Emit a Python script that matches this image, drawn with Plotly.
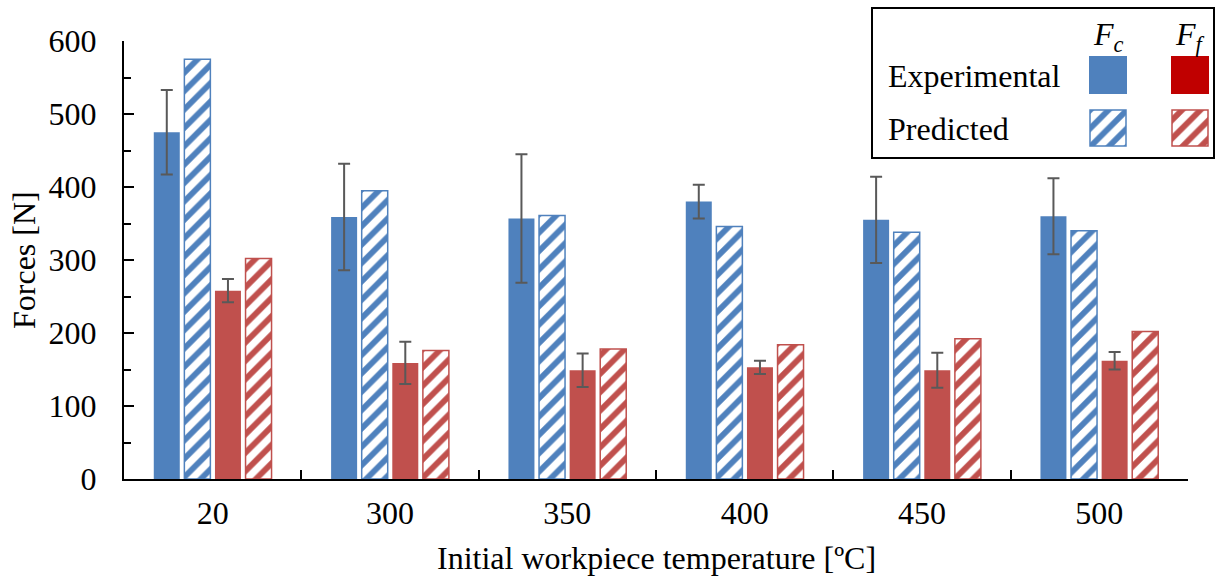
import plotly.graph_objects as go

categories = ["20", "300", "350", "400", "450", "500"]
fc_exp = [475, 359, 357, 380, 355, 360]
fc_exp_err = [58, 73, 88, 23, 59, 52]
fc_pred = [575, 395, 361, 346, 338, 340]
ff_exp = [258, 159, 149, 153, 149, 162]
ff_exp_err = [16, 29, 23, 9, 24, 12]
ff_pred = [302, 176, 178, 184, 192, 202]

BLUE = "#4F81BD"
RED = "#C0504D"
LEG_RED = "#C00000"
ERR = "#595959"
FONT = "Liberation Serif"
FS = 32

W, H = 1216, 579
L, T, B = 124, 41, 100
PW = W - L
PH = H - T - B
X_RIGHT = 1188


def px(x):
    return (x - L) / PW


def py(y):
    return (H - B - y) / PH


def stripes(color):
    return dict(shape="/", fgcolor=color, bgcolor="white", size=13,
                solidity=0.45, fillmode="replace", fgopacity=1)


fig = go.Figure()
err_style = dict(type="data", color=ERR, thickness=2, width=6)
fig.add_bar(x=categories, y=fc_exp, marker=dict(color=BLUE, line=dict(width=0)),
            error_y=dict(array=fc_exp_err, **err_style), name="Fc exp")
fig.add_bar(x=categories, y=fc_pred,
            marker=dict(color="white", line=dict(color=BLUE, width=1.5), pattern=stripes(BLUE)),
            name="Fc pred")
fig.add_bar(x=categories, y=ff_exp, marker=dict(color=RED, line=dict(width=0)),
            error_y=dict(array=ff_exp_err, **err_style), name="Ff exp")
fig.add_bar(x=categories, y=ff_pred,
            marker=dict(color="white", line=dict(color=RED, width=1.5), pattern=stripes(RED)),
            name="Ff pred")

# legend swatches on an auxiliary axis
sw_x = [19, 101]
fig.add_bar(x=sw_x, y=[38, 38], base=[53, 53], width=38, offset=-19,
            marker=dict(color=[BLUE, LEG_RED], line=dict(width=0)),
            xaxis="x2", yaxis="y2", hoverinfo="skip")
fig.add_bar(x=sw_x, y=[36, 36], base=[1, 1], width=36, offset=-18,
            marker=dict(color="white", line=dict(color=[BLUE, RED], width=1.5),
                        pattern=dict(shape="/", fgcolor=[BLUE, RED], bgcolor="white",
                                     size=13, solidity=0.45, fillmode="replace", fgopacity=1)),
            xaxis="x2", yaxis="y2", hoverinfo="skip")

shapes = [dict(type="rect", xref="paper", yref="paper",
               x0=px(872), x1=px(1214), y0=py(158), y1=py(8),
               line=dict(color="black", width=2), fillcolor="rgba(0,0,0,0)",
               layer="above")]

ann_font = dict(family=FONT, size=FS, color="black")
annotations = [
    dict(text="Experimental", x=px(886), y=py(76), xanchor="left", yanchor="middle"),
    dict(text="Predicted", x=px(886), y=py(129), xanchor="left", yanchor="middle"),
    dict(text="<i>F</i><sub><i>c</i></sub>", x=px(1108), y=py(36), xanchor="center", yanchor="middle"),
    dict(text="<i>F</i><sub><i>f</i></sub>", x=px(1190), y=py(36), xanchor="center", yanchor="middle"),
    dict(text="Initial workpiece temperature [ºC]", x=px(656), y=py(558),
         xanchor="center", yanchor="middle"),
    dict(text="Forces [N]", x=px(24), y=py(260), xanchor="center", yanchor="middle",
         textangle=-90),
]
for a in annotations:
    a.update(xref="paper", yref="paper", showarrow=False, font=ann_font)

fig.update_layout(
    width=W, height=H,
    margin=dict(l=L, r=0, t=T, b=B, pad=0),
    paper_bgcolor="white", plot_bgcolor="white",
    barmode="group", bargap=0.31, bargroupgap=0.15,
    showlegend=False,
    font=dict(family=FONT, size=FS, color="black"),
    shapes=shapes, annotations=annotations,
    xaxis=dict(domain=[0, px(X_RIGHT)], type="category", range=[-0.5, 5.5],
               showline=True, linecolor="black", linewidth=2,
               ticks="inside", ticklen=9, tickwidth=2, tickcolor="black",
               tickson="boundaries", showgrid=False, zeroline=False,
               tickfont=dict(family=FONT, size=FS), ticklabelstandoff=5),
    yaxis=dict(range=[0, 600], dtick=100, showline=True, linecolor="black", linewidth=2,
               ticks="inside", ticklen=10, tickwidth=2, tickcolor="black",
               minor=dict(dtick=50, ticks="inside", ticklen=7, tickwidth=2, tickcolor="black"),
               showgrid=False, zeroline=False,
               tickfont=dict(family=FONT, size=FS), ticklabelstandoff=19),
    xaxis2=dict(domain=[px(1089), px(1209)], range=[0, 120], anchor="y2",
                visible=False, fixedrange=True),
    yaxis2=dict(domain=[py(147), py(56)], range=[0, 91], anchor="x2",
                visible=False, fixedrange=True),
)

fig.write_html("out.html", config={"displayModeBar": False},
               post_script="document.body.style.margin='0';document.body.style.overflow='hidden';")
